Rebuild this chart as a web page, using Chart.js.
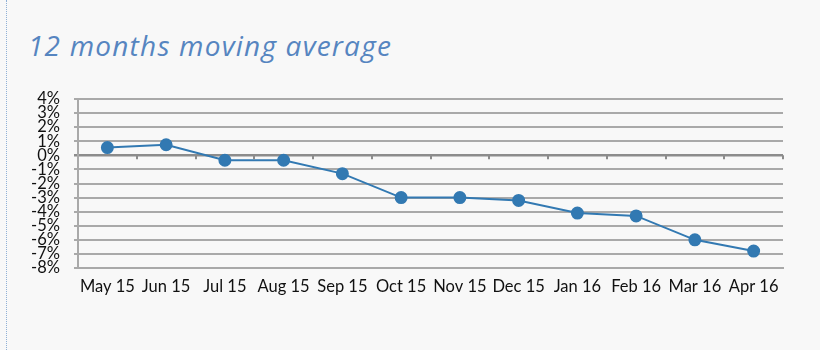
<!DOCTYPE html>
<html>
<head>
<meta charset="utf-8">
<script src="https://cdn.jsdelivr.net/npm/chart.js@4"></script>
<style>
  html, body { margin: 0; padding: 0; background: #f8f8f8; }
  #wrap { position: relative; width: 820px; height: 350px; overflow: hidden; }
  #edge { position: absolute; left: 6px; top: 0; height: 350px; border-left: 1px dotted #8fb0d6; }
  #title {
    position: absolute; left: 28px; top: 26px; margin: 0;
    font-family: "Open Sans", Lato, sans-serif; font-style: italic; font-weight: 500;
    font-size: 28px; letter-spacing: 1.2px; color: #5685c0; white-space: nowrap;
  }
  #chart { position: absolute; left: 0; top: 0; }
</style>
</head>
<body>
<div id="wrap">
  <div id="edge"></div>
  <h1 id="title">12 months moving average</h1>
  <canvas id="chart" width="820" height="350"></canvas>
</div>
<script>
const MONTHS = ['May 15', 'Jun 15', 'Jul 15', 'Aug 15', 'Sep 15', 'Oct 15', 'Nov 15', 'Dec 15', 'Jan 16', 'Feb 16', 'Mar 16', 'Apr 16']
const AVG_12M = [0.55, 0.75, -0.35, -0.35, -1.3, -3.0, -3.0, -3.2, -4.1, -4.3, -6.0, -6.8]
const Y_MIN = -8
const Y_MAX = 4

const GRID = '#a9a9a9'
const LINE = '#3279b2'
const FONT = { family: 'Lato, "Open Sans", sans-serif', size: 16.5, lineHeight: 1 }

// little tick marks hanging under the 0% line, at category boundaries
const zeroTicks = {
  id: 'zeroTicks',
  afterDatasetsDraw(chart) {
    const { ctx, scales: { x, y } } = chart
    const y0 = y.getPixelForValue(0)
    const half = (x.getPixelForValue(1) - x.getPixelForValue(0)) / 2
    ctx.save()
    ctx.strokeStyle = '#8c8c8c'
    ctx.lineWidth = 2
    for (let i = 0; i < MONTHS.length; i++) {
      const px = Math.round(x.getPixelForValue(i) + half)
      ctx.beginPath()
      ctx.moveTo(px, y0)
      ctx.lineTo(px, y0 + 4)
      ctx.stroke()
    }
    ctx.restore()
  }
}

new Chart(document.getElementById('chart'), {
  type: 'line',
  data: {
    labels: MONTHS,
    datasets: [{
      data: AVG_12M,
      borderColor: LINE,
      backgroundColor: LINE,
      borderWidth: 2,
      pointRadius: 5.5,
      pointHoverRadius: 5.5,
      tension: 0,
      fill: false,
    }]
  },
  plugins: [zeroTicks],
  options: {
    responsive: false,
    animation: false,
    layout: { padding: { top: 99, right: 37, bottom: 0, left: 0 } },
    plugins: { legend: { display: false }, tooltip: { enabled: false } },
    scales: {
      x: {
        offset: true,
        grid: { display: false, drawTicks: false },
        border: { display: true, color: GRID, width: 2 },
        ticks: { color: '#111', font: FONT, padding: 10, maxRotation: 0, autoSkip: false },
        afterFit: s => { s.height = 82 },
      },
      y: {
        min: Y_MIN,
        max: Y_MAX,
        grid: {
          color: c => c.tick && c.tick.value === 0 ? '#8c8c8c' : GRID,
          lineWidth: c => c.tick && c.tick.value === 0 ? 2.5 : 2,
          tickLength: 4,
        },
        border: { display: true, color: GRID, width: 2 },
        ticks: {
          stepSize: 1,
          autoSkip: false,
          color: '#111',
          font: FONT,
          padding: 14,
          callback: v => v + '%',
        },
        afterFit: s => { s.width = 78 },
      }
    }
  }
})
</script>
</body>
</html>
